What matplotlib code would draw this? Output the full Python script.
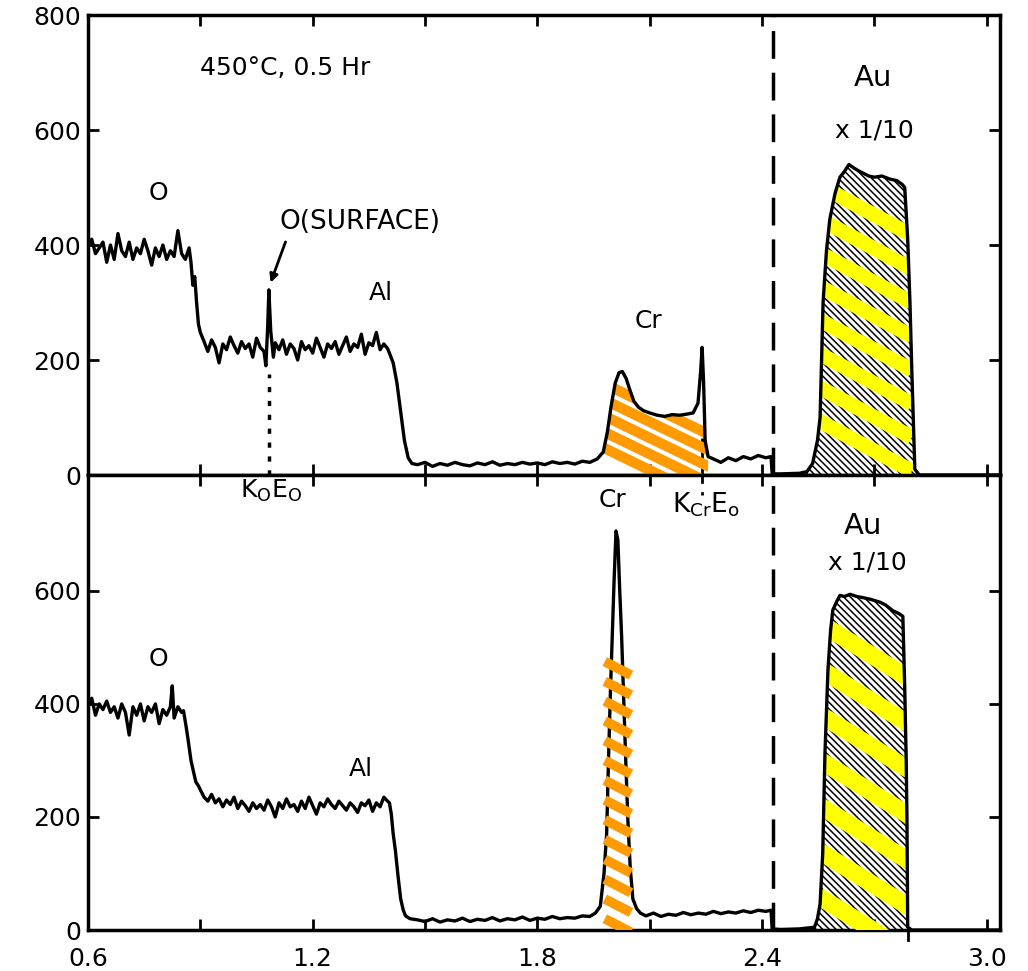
import matplotlib
matplotlib.use("Agg")
import matplotlib.pyplot as plt
import numpy as np

plt.rcParams["font.family"] = ["DejaVu Sans"]
plt.rcParams["hatch.linewidth"] = 1.1

# RBS spectra, counts vs energy (MeV).
# top: after 450 C, 0.5 hr
top_energy = [
    0.60, 0.61, 0.62, 0.63, 0.64, 0.65, 0.66, 0.67, 0.68, 0.69, 0.70, 0.71, 0.72, 0.73,
    0.74, 0.75, 0.76, 0.77, 0.78, 0.79, 0.80, 0.81, 0.82, 0.83, 0.84, 0.85, 0.86, 0.87,
    0.875, 0.88, 0.885, 0.89, 0.895, 0.90, 0.905,
    0.91, 0.92, 0.93, 0.94, 0.95, 0.96, 0.97, 0.98, 0.99, 1.00, 1.01, 1.02, 1.03, 1.04,
    1.05, 1.06, 1.07, 1.075, 1.08, 1.083, 1.088, 1.095, 1.10, 1.11, 1.12, 1.13, 1.14,
    1.15, 1.16, 1.17, 1.18, 1.19, 1.20, 1.21, 1.22, 1.23, 1.24, 1.25, 1.26, 1.27, 1.28,
    1.29, 1.30, 1.31, 1.32, 1.33, 1.34, 1.35, 1.36, 1.37, 1.38, 1.39, 1.40, 1.405,
    1.415, 1.425, 1.435, 1.445, 1.455, 1.465,
    1.48, 1.50, 1.52, 1.54, 1.56, 1.58, 1.60, 1.62, 1.64, 1.66, 1.68, 1.70, 1.72, 1.74,
    1.76, 1.78, 1.80, 1.82, 1.84, 1.86, 1.88, 1.90, 1.92, 1.94, 1.96,
    1.976, 1.987, 1.997, 2.008, 2.018, 2.027, 2.037, 2.047, 2.058, 2.07, 2.083, 2.10,
    2.12, 2.14, 2.16, 2.18, 2.20, 2.216, 2.229, 2.236, 2.240, 2.244, 2.248, 2.256,
    2.27, 2.29, 2.31, 2.33, 2.35, 2.37, 2.39, 2.41, 2.424, 2.427,
    2.45, 2.50, 2.52, 2.535, 2.548, 2.555, 2.563, 2.572, 2.581, 2.595, 2.608, 2.62,
    2.632, 2.643, 2.655, 2.67, 2.685, 2.70, 2.72, 2.74, 2.76, 2.775, 2.781, 2.789,
    2.795, 2.80, 2.808, 2.82, 3.035,
]
top_counts = [
    400, 410, 385, 395, 405, 370, 400, 375, 420, 390, 380, 405, 375, 395,
    385, 410, 390, 365, 395, 380, 400, 375, 390, 380, 425, 385, 375, 395,
    370, 330, 345, 300, 262, 248, 240,
    232, 215, 235, 222, 195, 228, 218, 240, 225, 212, 232, 220, 228, 205,
    238, 222, 215, 190, 260, 322, 250, 205, 230, 218, 235, 210, 228,
    220, 200, 232, 218, 225, 212, 238, 222, 205, 228, 220, 232, 210, 225,
    240, 215, 228, 222, 245, 210, 230, 225, 248, 218, 228, 220, 212,
    195, 160, 110, 60, 30, 20,
    18, 22, 15, 20, 17, 22, 18, 16, 21, 18, 23, 17, 20, 18,
    22, 19, 21, 18, 23, 20, 22, 19, 24, 22, 28,
    40, 75, 120, 160, 178, 180, 168, 148, 128, 118, 112, 108,
    104, 102, 105, 104, 106, 108, 125, 180, 222, 160, 60, 32,
    28, 22, 30, 25, 32, 28, 34, 30, 32, 2,
    2, 3, 6, 20, 60, 100, 300, 390, 445, 490, 518, 528,
    540, 535, 530, 525, 520, 518, 520, 515, 512, 505, 500, 410,
    300, 180, 10, 0, 0,
]

# bottom spectrum
bot_energy = [
    0.60, 0.61, 0.62, 0.63, 0.64, 0.65, 0.66, 0.67, 0.68, 0.69, 0.70, 0.71, 0.72, 0.73,
    0.74, 0.75, 0.76, 0.77, 0.78, 0.79, 0.80, 0.81, 0.82, 0.825, 0.83, 0.84, 0.85, 0.855,
    0.862, 0.867, 0.875, 0.88, 0.888, 0.895, 0.90,
    0.91, 0.92, 0.93, 0.94, 0.95, 0.96, 0.97, 0.98, 0.99, 1.00, 1.01, 1.02, 1.03, 1.04,
    1.05, 1.06, 1.07, 1.08, 1.09, 1.10, 1.11, 1.12, 1.13, 1.14, 1.15, 1.16, 1.17, 1.18,
    1.19, 1.20, 1.21, 1.22, 1.23, 1.24, 1.25, 1.26, 1.27, 1.28, 1.29, 1.30, 1.31, 1.32,
    1.33, 1.34, 1.35, 1.36, 1.37, 1.38, 1.39, 1.40, 1.405,
    1.41, 1.415, 1.421, 1.428, 1.435, 1.442, 1.448, 1.46,
    1.48, 1.50, 1.52, 1.54, 1.56, 1.58, 1.60, 1.62, 1.64, 1.66, 1.68, 1.70, 1.72, 1.74,
    1.76, 1.78, 1.80, 1.82, 1.84, 1.86, 1.88, 1.90, 1.92, 1.94, 1.955,
    1.968, 1.978, 1.985, 1.990, 1.995, 2.000, 2.005, 2.010, 2.015, 2.020, 2.025, 2.030,
    2.036, 2.042, 2.048, 2.055, 2.065, 2.075,
    2.09, 2.11, 2.13, 2.15, 2.17, 2.19, 2.21, 2.23, 2.25, 2.27, 2.29, 2.31, 2.33, 2.35,
    2.37, 2.39, 2.41, 2.424, 2.427,
    2.45, 2.50, 2.54, 2.548, 2.555, 2.562, 2.568, 2.576, 2.583, 2.589, 2.60, 2.608,
    2.62, 2.635, 2.653, 2.67, 2.69, 2.715, 2.73, 2.749, 2.765, 2.776, 2.781, 2.785,
    2.787, 2.789, 2.80, 3.035,
]
bot_counts = [
    395, 410, 380, 400, 390, 405, 385, 395, 375, 400, 385, 345, 395, 380,
    400, 370, 395, 385, 400, 365, 390, 380, 395, 432, 375, 395, 385, 388,
    360, 338, 300, 285, 262, 255, 248,
    235, 228, 240, 225, 232, 218, 230, 222, 235, 215, 228, 220, 210, 225,
    215, 222, 212, 230, 218, 200, 225, 215, 232, 218, 222, 210, 228, 215,
    235, 220, 205, 225, 218, 232, 222, 215, 228, 220, 212, 225, 218, 208,
    225, 220, 230, 210, 225, 218, 235, 228, 225,
    205, 170, 140, 95, 55, 35, 25, 20,
    18, 15, 20, 14, 18, 16, 21, 15, 19, 17, 22, 16, 20, 18,
    23, 17, 21, 19, 24, 20, 22, 21, 25, 24, 30,
    42, 100, 170, 300, 420, 520, 620, 706, 690, 600, 520, 420,
    300, 190, 110, 55, 38, 30,
    25, 30, 24, 28, 26, 31, 27, 30, 28, 33, 29, 32, 30, 34,
    31, 35, 33, 35, 2,
    1, 2, 5, 20, 46, 135, 312, 460, 530, 566, 582, 592,
    590, 594, 590, 588, 585, 580, 575, 565, 560, 555, 430, 300,
    195, 5, 0, 0,
]

AU_RANGE = (2.50, 2.82)
CR_TOP_RANGE = (1.97, 2.256)
SPLIT_E = 2.43          # dashed divider
KO_E = 1.083            # O surface edge
KCR_E = 2.24            # Cr surface edge

FS = 18


def region(x, y, lo, hi):
    x = np.asarray(x, float); y = np.asarray(y, float)
    m = (x >= lo) & (x <= hi)
    return x[m], y[m]


def stripes(ax, clip, x0, x1, levels, drop, color, lw, z=4):
    """thick highlighter strokes, optionally clipped to a filled region"""
    for y0 in levels:
        ln, = ax.plot([x0, x1], [y0, y0 - drop], color=color, lw=lw,
                      solid_capstyle="butt", zorder=z)
        if clip is not None:
            ln.set_clip_path(clip.get_paths()[0], ax.transData)


fig = plt.figure(figsize=(10.28, 9.71), dpi=100)
ax_t = fig.add_axes([0.0856, 0.5108, 0.887, 0.4737])
ax_b = fig.add_axes([0.0856, 0.0422, 0.887, 0.4686], sharex=ax_t)

for ax, e, c in ((ax_t, top_energy, top_counts), (ax_b, bot_energy, bot_counts)):
    ax.plot(e, c, color="k", lw=2.4, zorder=5)
    xa, ya = region(e, c, *AU_RANGE)
    au = ax.fill_between(xa, 0, ya, facecolor="none", edgecolor="k",
                         hatch="\\" * 5, lw=0, zorder=2)
    ax.axvline(SPLIT_E, color="k", lw=2.5, ls=(0, (8, 4)), zorder=3)
    if ax is ax_t:
        stripes(ax, au, 2.55, 2.80, np.linspace(95, 505, 8), 88, "#ffff00", 10.5)
    else:
        stripes(ax, au, 2.55, 2.80, np.linspace(60, 545, 7), 103, "#ffff00", 12.5)

# Cr highlight, top
xc, yc = region(top_energy, top_counts, *CR_TOP_RANGE)
cr = ax_t.fill_between(xc, 0, yc, facecolor="none", lw=0)
stripes(ax_t, cr, 1.975, 2.26, np.arange(48, 180, 28), 90, "#ff9a00", 7.5)

# Cr highlight, bottom (narrow peak)
stripes(ax_b, None, 1.98, 2.05, np.arange(20, 500, 35), 24, "#ff9a00", 7, z=6)

# axes styling
for ax in (ax_t, ax_b):
    for sp in ax.spines.values():
        sp.set_linewidth(2.5)
    ax.set_xlim(0.6, 3.035)
    ax.tick_params(direction="in", length=8, width=2, labelsize=FS,
                   top=True, right=True, pad=5)
    ax.tick_params(axis="x", pad=12)
    ax.set_xticks([0.6, 0.9, 1.2, 1.5, 1.8, 2.1, 2.4, 2.7, 3.0])
    ax.set_xticklabels(["0.6", "", "1.2", "", "1.8", "", "2.4", "", "3.0"])

ax_t.set_ylim(0, 800)
ax_t.set_yticks([0, 200, 400, 600, 800])
ax_t.tick_params(labelbottom=False)
ax_b.set_ylim(0, 805)
ax_b.set_yticks([0, 200, 400, 600])

# annotations, top
ax_t.text(0.90, 708, "450°C, 0.5 Hr", fontsize=FS, va="center")
ax_t.text(0.787, 490, "O", fontsize=FS, ha="center", va="center")
ax_t.text(1.112, 440, "O(SURFACE)", fontsize=FS + 1, va="center")
ax_t.annotate("", xy=(1.085, 330), xytext=(1.13, 410),
              arrowprops=dict(arrowstyle="-|>", color="k", lw=2, mutation_scale=12))
ax_t.plot([KO_E, KO_E], [0, 175], color="k", lw=2.5, ls=(0, (1.5, 2.5)))
ax_t.plot([KCR_E, KCR_E], [0, 65], color="k", lw=2, ls=(0, (3, 3)))
ax_t.text(1.381, 316, "Al", fontsize=FS, ha="center", va="center")
ax_t.text(2.096, 268, "Cr", fontsize=FS, ha="center", va="center")
ax_t.text(2.696, 690, "Au", fontsize=FS + 3, ha="center", va="center")
ax_t.text(2.70, 600, "x 1/10", fontsize=FS, ha="center", va="center")

# annotations, bottom
ax_b.text(1.09, 777, r"K$_\mathregular{O}$E$_\mathregular{O}$", fontsize=FS,
          ha="center", va="center")
ax_b.plot([KCR_E, KCR_E], [805, 770], color="k", lw=2, ls=(0, (3, 3)))
ax_b.text(2.0, 761, "Cr", fontsize=FS, ha="center", va="center")
ax_b.text(2.25, 752, r"K$_\mathregular{Cr}$E$_\mathregular{o}$", fontsize=FS + 1,
          ha="center", va="center")
ax_b.text(0.787, 480, "O", fontsize=FS, ha="center", va="center")
ax_b.text(1.328, 285, "Al", fontsize=FS, ha="center", va="center")
ax_b.text(2.67, 715, "Au", fontsize=FS + 3, ha="center", va="center")
ax_b.text(2.68, 650, "x 1/10", fontsize=FS, ha="center", va="center")
ax_b.plot([2.789, 2.789], [0, -18], color="k", lw=2, clip_on=False)

fig.savefig("out.png", dpi=100)
